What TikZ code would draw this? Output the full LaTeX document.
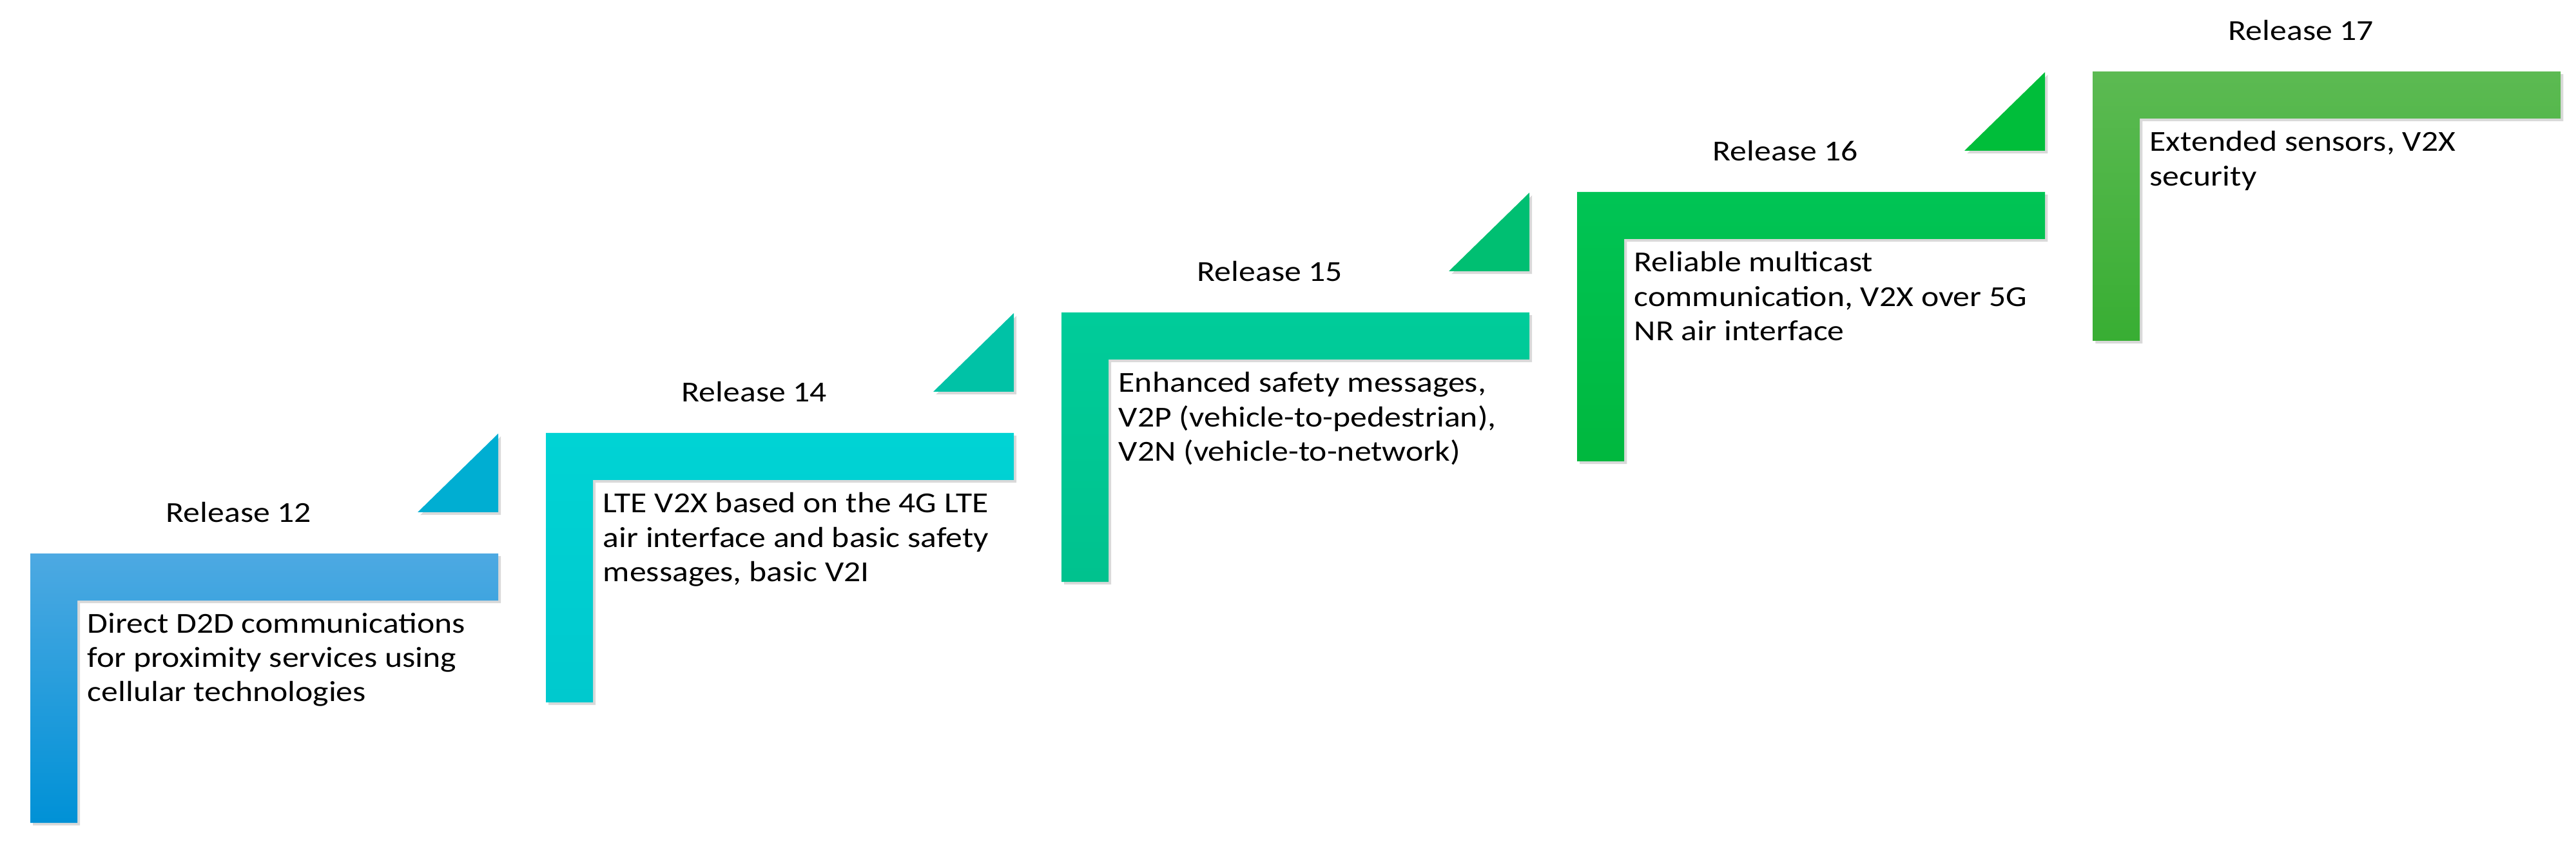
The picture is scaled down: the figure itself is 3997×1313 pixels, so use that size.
\documentclass[tikz,border=0pt]{standalone}
\usepackage{fontspec}
\setmainfont{Carlito}[FakeStretch=1.15]
\usepackage{tikz}
\usetikzlibrary{positioning, shadows}

\definecolor{blueTop}{HTML}{4DA9E2}
\definecolor{blueBot}{HTML}{0091D6}
\definecolor{cyanTop}{HTML}{00D3D4}
\definecolor{cyanBot}{HTML}{00C9CE}
\definecolor{tealTop}{HTML}{00CC9A}
\definecolor{tealBot}{HTML}{00C28E}
\definecolor{greenTop}{HTML}{00C455}
\definecolor{greenBot}{HTML}{00B83E}
\definecolor{limeTop}{HTML}{5CBA52}
\definecolor{limeBot}{HTML}{38AE33}
\definecolor{triA}{HTML}{00AED2}
\definecolor{triB}{HTML}{00C2A6}
\definecolor{triC}{HTML}{00BF72}
\definecolor{triD}{HTML}{00BE3A}

\tikzset{
  stair/.style={drop shadow={shadow xshift=1.2pt, shadow yshift=-1.2pt, opacity=0.3}},
  release/.style={anchor=base west, inner sep=0pt, font=\fontsize{12.8}{15.1}\selectfont},
  desc/.style={anchor=north west, inner sep=0pt, align=left, font=\fontsize{12.8}{15.1}\selectfont},
}

\begin{document}
\begin{tikzpicture}[x=0.1mm, y=-0.1mm]
                \useasboundingbox (0,0) rectangle (3997,1313);

                % steps
                \path[stair, top color=blueTop, bottom color=blueBot] (47,859) -- ++(726,0) -- ++(0,73) -- ++(-653,0) -- ++(0,345) -- ++(-73,0) -- cycle;
                \path[stair, top color=cyanTop, bottom color=cyanBot] (847,672) -- ++(726,0) -- ++(0,73) -- ++(-653,0) -- ++(0,345) -- ++(-73,0) -- cycle;
                \path[stair, top color=tealTop, bottom color=tealBot] (1647,485) -- ++(726,0) -- ++(0,73) -- ++(-653,0) -- ++(0,345) -- ++(-73,0) -- cycle;
                \path[stair, top color=greenTop, bottom color=greenBot] (2447,298) -- ++(726,0) -- ++(0,73) -- ++(-653,0) -- ++(0,345) -- ++(-73,0) -- cycle;
                \path[stair, top color=limeTop, bottom color=limeBot] (3247,111) -- ++(726,0) -- ++(0,73) -- ++(-653,0) -- ++(0,345) -- ++(-73,0) -- cycle;

                % triangles
                \path[stair, fill=triA] (648,795) -- (773,795) -- (773,673) -- cycle;
                \path[stair, fill=triB] (1448,608) -- (1573,608) -- (1573,486) -- cycle;
                \path[stair, fill=triC] (2248,421) -- (2373,421) -- (2373,299) -- cycle;
                \path[stair, fill=triD] (3048,234) -- (3173,234) -- (3173,112) -- cycle;

                % labels
                \node[release] (r12) at (257,811) {Release 12};
                \node[release] (r14) at (1057,624) {Release 14};
                \node[release] (r15) at (1857,437) {Release 15};
                \node[release] (r16) at (2657,250) {Release 16};
                \node[release] (r17) at (3457,63) {Release 17};

                \node[desc] (d12) at (135,951) {Direct D2D communications\\for proximity services using\\cellular technologies};
                \node[desc] (d14) at (935,764) {LTE V2X based on the 4G LTE\\air interface and basic safety\\messages, basic V2I};
                \node[desc] (d15) at (1735,577) {Enhanced safety messages,\\V2P (vehicle-to-pedestrian),\\V2N (vehicle-to-network)};
                \node[desc] (d16) at (2535,390) {Reliable multicast\\communication, V2X over 5G\\NR air interface};
                \node[desc] (d17) at (3335,203) {Extended sensors, V2X\\security};
            \end{tikzpicture}
\end{document}
